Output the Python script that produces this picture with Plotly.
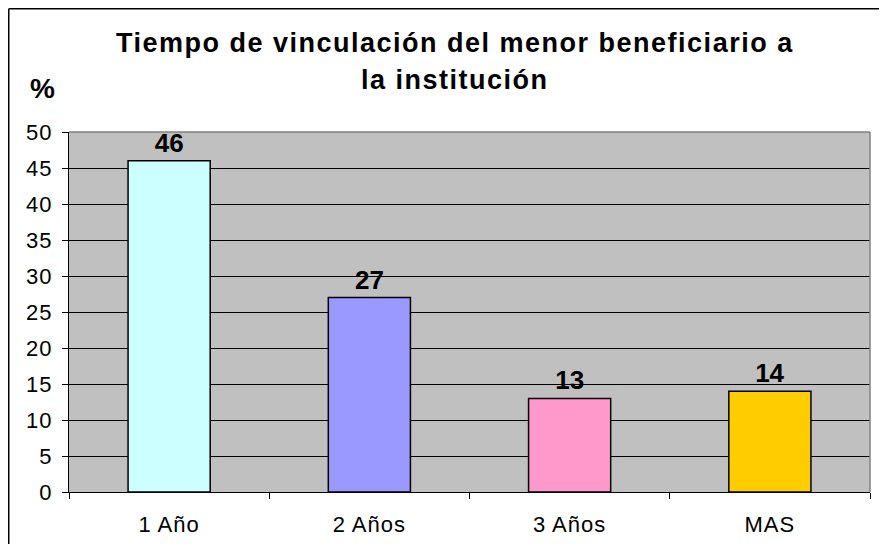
import plotly.graph_objects as go

categories = ["1 Año", "2 Años", "3 Años", "MAS"]
values = [46, 27, 13, 14]
bar_colors = ["#CCFFFF", "#9999FF", "#FF99CC", "#FFCC00"]
y_ticks = [0, 5, 10, 15, 20, 25, 30, 35, 40, 45, 50]

FONT = "Liberation Sans, Arial, sans-serif"
TITLE1 = "Tiempo de vinculación del menor beneficiario a"
TITLE2 = "la institución"


def spaced(s, ls):
    return '<span style="letter-spacing:%spx">%s</span>' % (ls, s)


fig = go.Figure()
fig.add_trace(go.Bar(
    x=categories, y=values,
    marker=dict(color=bar_colors, line=dict(color="black", width=1.5)),
    width=0.41,
    text=[str(v) for v in values], textposition="outside",
    textfont=dict(family=FONT, size=26, color="black"),
    texttemplate="<b>%{text}</b>", cliponaxis=False,
))

# the page body adds an 8px offset; margins compensate
OFF = 8
L, R, T, B = 69 - OFF, 887 - (870 - OFF), 132 - OFF, 544 - (492 - OFF)
fig.update_layout(
    width=887, height=544,
    margin=dict(l=L, r=R, t=T, b=B),
    paper_bgcolor="white", plot_bgcolor="#C0C0C0",
    showlegend=False,
    font=dict(family=FONT, color="black"),
)
fig.update_xaxes(
    type="category", tickson="boundaries", ticks="outside", ticklen=6,
    tickcolor="black", showline=True, linecolor="black", linewidth=1,
    showgrid=False, tickfont=dict(size=22), ticklabelstandoff=13,
    tickvals=categories, ticktext=[spaced(c, 1) for c in categories],
)
fig.update_yaxes(
    range=[0, 50], tickvals=y_ticks, ticks="outside", ticklen=6,
    tickcolor="black", showline=True, linecolor="black", linewidth=1,
    showgrid=True, gridcolor="black", gridwidth=1, zeroline=False,
    tickfont=dict(size=22), ticklabelstandoff=5,
    ticktext=[spaced(str(t), 1) for t in y_ticks],
)

pw = 887 - L - R
ph = 544 - T - B


def px(x):
    return (x - OFF - L) / pw


def py(y):
    return (544 - B - (y - OFF)) / ph


# plot area top and right border (gray)
fig.add_shape(type="line", xref="paper", yref="paper", x0=0, x1=1, y0=1, y1=1,
              line=dict(color="#808080", width=1.5))
fig.add_shape(type="line", xref="paper", yref="paper", x0=1, x1=1, y0=0, y1=1,
              line=dict(color="#808080", width=1.5))
# chart outer border (top and left visible)
fig.add_shape(type="line", xref="paper", yref="paper", x0=px(8.75), x1=px(900), y0=py(8.75), y1=py(8.75),
              line=dict(color="black", width=1.5))
fig.add_shape(type="line", xref="paper", yref="paper", x0=px(8.75), x1=px(8.75), y0=py(8.75), y1=py(560),
              line=dict(color="black", width=1.5))

fig.add_annotation(text="<b>" + spaced(TITLE1, 1.5) + "</b>",
                   xref="paper", yref="paper", x=px(455), y=py(43), showarrow=False,
                   font=dict(size=27, family=FONT), xanchor="center", yanchor="middle")
fig.add_annotation(text="<b>" + spaced(TITLE2, 1.5) + "</b>",
                   xref="paper", yref="paper", x=px(455), y=py(80), showarrow=False,
                   font=dict(size=27, family=FONT), xanchor="center", yanchor="middle")
fig.add_annotation(text="<b>%</b>",
                   xref="paper", yref="paper", x=px(42), y=py(88), showarrow=False,
                   font=dict(size=28, family=FONT), xanchor="center", yanchor="middle")

fig.write_html("out.html")
